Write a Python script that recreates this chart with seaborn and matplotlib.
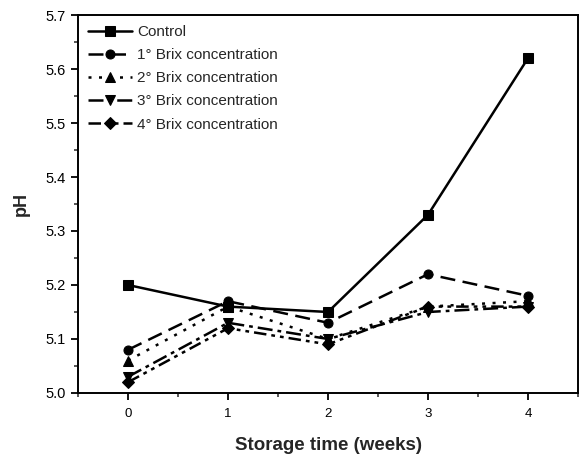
import matplotlib
matplotlib.use("Agg")
import matplotlib.pyplot as plt
import seaborn as sns
import pandas as pd
from matplotlib.ticker import MultipleLocator

weeks = [0, 1, 2, 3, 4]
series_names = ["Control", "1° Brix concentration", "2° Brix concentration",
                "3° Brix concentration", "4° Brix concentration"]
control = [5.20, 5.16, 5.15, 5.33, 5.62]
brix1 = [5.08, 5.17, 5.13, 5.22, 5.18]
brix2 = [5.06, 5.16, 5.10, 5.16, 5.17]
brix3 = [5.03, 5.13, 5.10, 5.15, 5.16]
brix4 = [5.02, 5.12, 5.09, 5.16, 5.16]

values = [control, brix1, brix2, brix3, brix4]
rows = []
for name, vals in zip(series_names, values):
    for w, v in zip(weeks, vals):
        rows.append({"week": w, "pH": v, "series": name})
df = pd.DataFrame(rows)

sns.set_theme(style="ticks")
plt.rcParams['font.family'] = ['Liberation Sans', 'DejaVu Sans']

fig = plt.figure(figsize=(5.84, 4.55), dpi=100)
ax = fig.add_axes([0.1336, 0.1363, 0.8561, 0.8307])

dashes = {
    series_names[0]: "",
    series_names[1]: (6, 3),
    series_names[2]: (1.2, 3),
    series_names[3]: (6, 2, 1.5, 2),
    series_names[4]: (5, 2, 1.5, 2, 1.5, 2),
}
markers = {
    series_names[0]: "s",
    series_names[1]: "o",
    series_names[2]: "^",
    series_names[3]: "v",
    series_names[4]: "D",
}
sns.lineplot(data=df, x="week", y="pH", hue="series", style="series",
             palette=["black"] * 5, dashes=dashes, markers=markers,
             markersize=6.5, linewidth=1.8, ax=ax, markeredgecolor="black")

ax.set_xlim(-0.5, 4.5)
ax.set_ylim(5.0, 5.7)
ax.xaxis.set_major_locator(MultipleLocator(1))
ax.xaxis.set_minor_locator(MultipleLocator(0.5))
ax.yaxis.set_major_locator(MultipleLocator(0.1))
ax.yaxis.set_minor_locator(MultipleLocator(0.05))
ax.yaxis.set_major_formatter(matplotlib.ticker.FormatStrFormatter("%.1f"))
ax.tick_params(which="major", direction="out", length=5, width=1.3, colors="black")
ax.tick_params(axis="x", which="major", labelsize=9.5, pad=6)
ax.tick_params(axis="y", which="major", labelsize=10.5, pad=4)
ax.tick_params(which="minor", direction="out", length=3, width=1.1)
for s in ax.spines.values():
    s.set_linewidth(1.4)
    s.set_color("black")

ax.set_xlabel("Storage time (weeks)", fontsize=13.5, fontweight="bold", labelpad=12)
ax.set_ylabel("pH", fontsize=13, fontweight="bold", labelpad=11)

leg = ax.legend(loc="upper left", frameon=False, fontsize=11, handlelength=2.9,
                handletextpad=0.3, labelspacing=0.6, borderaxespad=0.45,
                borderpad=0.2, bbox_to_anchor=(0.0, 1.0))

fig.savefig("out.png", dpi=100)
